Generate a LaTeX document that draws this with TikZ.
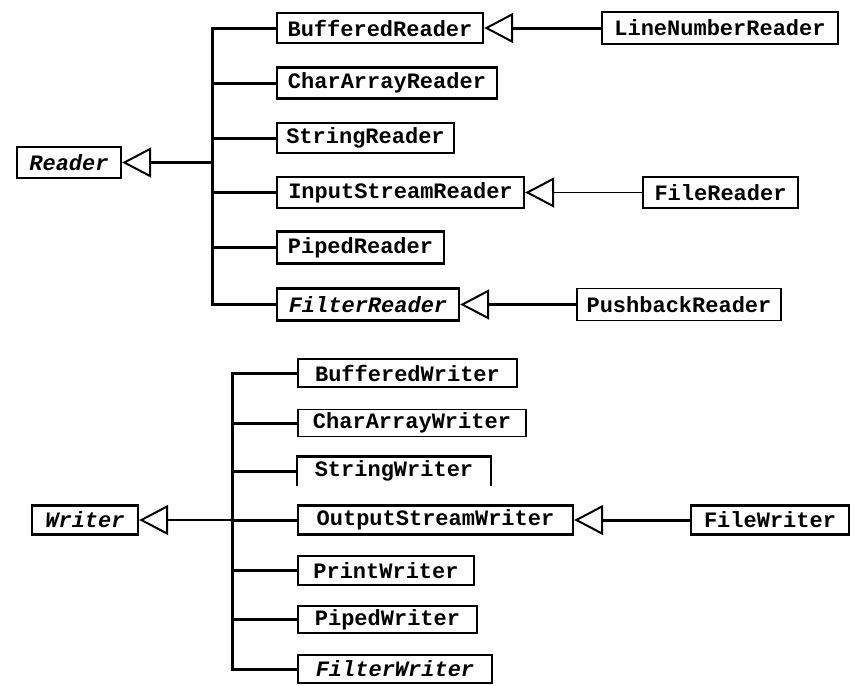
\documentclass[tikz,border=0pt]{standalone}
\usepackage{fontspec}
\setmonofont{Liberation Mono}
\usetikzlibrary{arrows.meta}
\begin{document}
\begin{tikzpicture}[x=0.5pt,y=-0.5pt,
  cls/.style={draw, line width=1.2pt, inner sep=0pt, font=\ttfamily\bfseries\fontsize{11}{13}\selectfont},
  abstractcls/.style={cls, font=\ttfamily\bfseries\itshape\fontsize{11}{13}\selectfont},
  wh/.style 2 args={minimum width=#1*0.5pt, minimum height=#2*0.5pt},
  trunkline/.style={line width=1.5pt, line join=miter},
  thinline/.style={line width=0.75pt},
  inherit/.style={-{Triangle[open, length=14.5pt, width=15pt, line width=1pt]}},
]
\useasboundingbox (0,0) rectangle (855,685);

% ---------- Reader hierarchy ----------
\node[abstractcls, wh={104}{31}] (reader) at (69,162.5) {Reader};
\node[cls, wh={206}{30}] (bfr) at (380,28) {BufferedReader};
\node[cls, wh={220}{31}] (car) at (387,83) {CharArrayReader};
\node[cls, wh={177}{30}, line width=0.9pt] (str) at (365.5,138) {StringReader};
\node[cls, wh={247}{31}] (isr) at (400.5,192.5) {InputStreamReader};
\node[cls, wh={167}{32}] (pir) at (360.5,247.5) {PipedReader};
\node[abstractcls, wh={182}{32}] (fir) at (368,304.5) {FilterReader};
\node[cls, wh={236}{32}] (lnr) at (720,28) {LineNumberReader};
\node[cls, wh={155}{31}] (flr) at (720.5,192.5) {FileReader};
\node[cls, wh={204}{32}, line width=0.9pt] (pbr) at (679,304.5) {PushbackReader};

\coordinate (rt) at (212,162.5);
\draw[trunkline] (bfr.west) -| (rt |- fir.west) -- (fir.west);
\foreach \n in {car,str,isr,pir} \draw[trunkline] (rt |- \n.west) -- (\n.west);
\draw[trunkline, inherit] (rt) -- (reader.east);
\draw[trunkline, inherit] (lnr.west) -- (bfr.east);
\draw[thinline, inherit] (flr.west) -- (isr.east);
\draw[trunkline, inherit] (pbr.west) -- (fir.east);

% ---------- Writer hierarchy ----------
\node[abstractcls, wh={106}{29}] (writer) at (85,520) {Writer};
\node[cls, wh={219}{28}] (bfw) at (407.5,373) {BufferedWriter};
\node[cls, wh={228}{27}, line width=0.9pt] (caw) at (412,423) {CharArrayWriter};
\node[cls, wh={192}{27}, draw=none] (stw) at (394,471) {StringWriter};
\node[cls, wh={275}{29}] (osw) at (435.5,520) {OutputStreamWriter};
\node[cls, wh={176}{29}] (prw) at (386,570.5) {PrintWriter};
\node[cls, wh={179}{27}, line width=0.9pt] (piw) at (387.5,619.5) {PipedWriter};
\node[abstractcls, wh={194}{28}] (fiw) at (395,669) {FilterWriter};
\node[cls, wh={158}{29}] (flw) at (770,520) {FileWriter};
\draw[line width=1.2pt] (stw.south west) -- (stw.north west) -- (stw.north east) -- (stw.south east);

\coordinate (wt) at (232,520);
\draw[trunkline] (bfw.west) -| (wt |- fiw.west) -- (fiw.west);
\foreach \n in {caw,stw,osw,prw,piw} \draw[trunkline] (wt |- \n.west) -- (\n.west);
\draw[thinline, inherit] (wt) -- (writer.east);
\draw[trunkline, inherit] (flw.west) -- (osw.east);
\end{tikzpicture}
\end{document}
